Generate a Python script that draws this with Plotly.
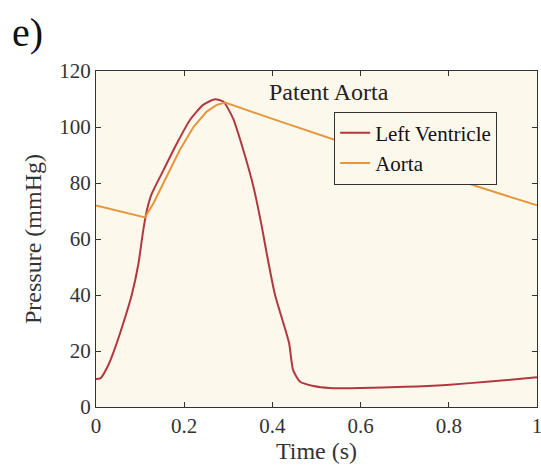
import plotly.graph_objects as go

# Left ventricle pressure (mmHg) vs time (s)
lv_t = [0.0, 0.01, 0.025, 0.04, 0.062, 0.081, 0.096, 0.107, 0.115, 0.126, 0.153, 0.183, 0.213,
        0.243, 0.27, 0.289, 0.311, 0.334, 0.357, 0.376, 0.387, 0.406, 0.425, 0.438, 0.447,
        0.463, 0.493, 0.53, 0.6, 0.7, 0.795, 0.9, 1.0]
lv_p = [10.0, 10.2, 14.0, 19.7, 30.0, 40.0, 51.0, 63.0, 70.0, 76.0, 84.6, 94.0, 102.5,
        107.9, 109.9, 109.0, 103.0, 91.8, 78.7, 64.4, 54.9, 40.0, 29.9, 22.7, 13.2,
        9.0, 7.5, 6.8, 6.8, 7.2, 7.9, 9.2, 10.6]

# Aortic pressure (mmHg) vs time (s)
ao_t = [0.0, 0.111, 0.13, 0.16, 0.19, 0.221, 0.251, 0.274, 0.293, 0.417, 0.6, 0.8, 1.0]
ao_p = [72.0, 67.7, 72.7, 82.0, 91.8, 100.0, 105.5, 107.9, 108.7, 102.0, 92.3, 82.0, 72.0]

x_ticks = [0, 0.2, 0.4, 0.6, 0.8, 1]
x_tick_text = ["0", "0.2", "0.4", "0.6", "0.8", "1"]
y_ticks = [0, 20, 40, 60, 80, 100, 120]

FONT = "Liberation Serif"
LV_COLOR = "#B2383F"
AO_COLOR = "#E5973D"
BG = "#FDF8EC"

fig = go.Figure()
fig.add_trace(go.Scatter(x=lv_t, y=lv_p, mode="lines", name="Left Ventricle",
                         line=dict(color=LV_COLOR, width=2, shape="spline", smoothing=0.6)))
fig.add_trace(go.Scatter(x=ao_t, y=ao_p, mode="lines", name="Aorta",
                         line=dict(color=AO_COLOR, width=2)))

axis_common = dict(showline=True, linecolor="#333333", linewidth=1, mirror="ticks",
                   ticks="inside", ticklen=5, tickcolor="#333333", showgrid=False,
                   zeroline=False, ticklabeloverflow="allow", automargin=False,
                   tickfont=dict(family=FONT, size=21, color="#333333"))

fig.update_layout(
    width=541, height=468,
    margin=dict(l=96, r=4, t=71, b=61),
    paper_bgcolor="white", plot_bgcolor=BG,
    font=dict(family=FONT, color="#222222"),
    xaxis=dict(range=[0, 1], tickvals=x_ticks, ticktext=x_tick_text,
               title=dict(text="Time (s)", font=dict(family=FONT, size=24, color="#333333"), standoff=2),
               **axis_common),
    yaxis=dict(range=[0, 120], tickvals=y_ticks,
               title=dict(text="Pressure (mmHg)", font=dict(family=FONT, size=24, color="#333333"), standoff=10),
               **axis_common),
    legend=dict(x=0.54, y=0.879, xanchor="left", yanchor="top",
                bgcolor=BG, bordercolor="#333333", borderwidth=1,
                font=dict(family=FONT, size=21, color="#111111"),
                tracegroupgap=0, itemwidth=30),
    showlegend=True,
)

fig.add_annotation(x=0.528, y=112.5, xref="x", yref="y", text="Patent Aorta",
                   showarrow=False, font=dict(family=FONT, size=24, color="#222222"))
fig.add_annotation(x=-0.195, y=1.116, xref="paper", yref="paper", text="e)",
                   xanchor="left", yanchor="middle",
                   showarrow=False, font=dict(family=FONT, size=40, color="#111111"))

fig.write_html("out.html")
